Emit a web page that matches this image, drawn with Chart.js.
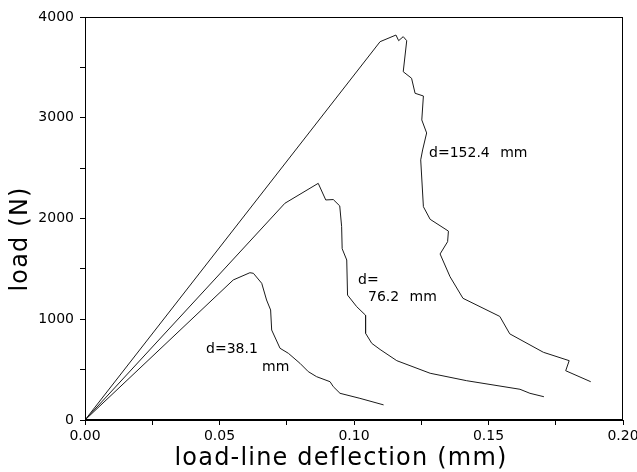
<!DOCTYPE html>
<html>
<head>
<meta charset="utf-8">
<script src="https://cdn.jsdelivr.net/npm/chart.js@4/dist/chart.umd.min.js"></script>
<style>
html,body{margin:0;padding:0;background:#fff;}
#wrap{width:637px;height:472px;position:relative;}
</style>
</head>
<body>
<div id="wrap"><canvas id="c" width="637" height="472"></canvas></div>
<script>
// ---- data (deflection in mm, load in N) ----
const seriesNames = ["d=152.4 mm", "d=76.2 mm", "d=38.1 mm"];

const d152x = [0, 0.1097, 0.1156, 0.1166, 0.1183, 0.1196, 0.1183, 0.1214, 0.1227, 0.1258, 0.1252, 0.1270, 0.1255, 0.1248, 0.1258, 0.1283, 0.1351, 0.1348, 0.1320, 0.1357, 0.1405, 0.1542, 0.1579, 0.1704, 0.1800, 0.1787, 0.1880];
const d152y = [0, 3755, 3821, 3765, 3805, 3765, 3457, 3392, 3243, 3216, 2978, 2849, 2680, 2582, 2117, 1992, 1875, 1770, 1648, 1422, 1208, 1028, 855, 672, 589, 489, 380];

const d76x = [0, 0.0743, 0.0867, 0.0895, 0.0923, 0.0947, 0.0954, 0.0956, 0.0973, 0.0976, 0.1010, 0.1043, 0.1043, 0.1066, 0.1097, 0.1159, 0.1283, 0.1419, 0.1617, 0.1654, 0.1706];
const d76y = [0, 2151, 2349, 2184, 2188, 2125, 1919, 1700, 1588, 1240, 1125, 1040, 861, 761, 700, 589, 464, 390, 305, 265, 231];

const d38x = [0, 0.0551, 0.0613, 0.0626, 0.0657, 0.0675, 0.0690, 0.0694, 0.0725, 0.0756, 0.0799, 0.0830, 0.0861, 0.0911, 0.0923, 0.0948, 0.1022, 0.1110];
const d38y = [0, 1390, 1462, 1456, 1357, 1191, 1092, 893, 712, 662, 563, 480, 430, 380, 331, 265, 215, 150];

const xTickLabels = ["0.00", "0.05", "0.10", "0.15", "0.20"];
const yTickLabels = ["0", "1000", "2000", "3000", "4000"];

const xTitle = "load-line deflection (mm)";
const yTitle = "load (N)";

// curve labels: text, x (mm), y (N) anchor (left, middle)
const noteText = ["d=152.4 mm", "d=", "76.2 mm", "d=38.1", "mm"];
const noteX = [0.1279, 0.1015, 0.1052, 0.0450, 0.0658];
const noteY = [2650, 1390, 1221, 705, 526];

function pts(xs, ys){ return xs.map((x,i)=>({x:x, y:ys[i]})); }

const FONT = "'DejaVu Sans', sans-serif";

const decor = {
  id: 'decor',
  afterDraw(chart){
    const ctx = chart.ctx, a = chart.chartArea;
    const xs = chart.scales.x, ys = chart.scales.y;
    ctx.save();
    // frame
    ctx.strokeStyle = '#000';
    ctx.lineWidth = 1;
    ctx.strokeRect(Math.round(a.left)+0.5, Math.round(a.top)+0.5, Math.round(a.right-a.left)-1, Math.round(a.bottom-a.top)-1);
    // curve notes
    ctx.fillStyle = '#000';
    ctx.font = "14px " + FONT;
    ctx.textBaseline = 'middle';
    ctx.textAlign = 'left';
    try { ctx.wordSpacing = '6px'; } catch(e){}
    noteText.forEach((t,i)=>{
      ctx.fillText(t, xs.getPixelForValue(noteX[i]), ys.getPixelForValue(noteY[i]));
    });
    try { ctx.wordSpacing = '0px'; } catch(e){}
    // axis titles
    ctx.font = "24px " + FONT;
    try { ctx.letterSpacing = '1.2px'; } catch(e){}
    ctx.textAlign = 'center';
    ctx.textBaseline = 'middle';
    ctx.fillText(xTitle, 341, 459);
    ctx.translate(21, 239);
    ctx.rotate(-Math.PI/2);
    ctx.fillText(yTitle, 0, 0);
    ctx.restore();
  }
};

function isMult(v, step){ const r = v/step; return Math.abs(r - Math.round(r)) < 1e-6; }

new Chart(document.getElementById('c'), {
  type: 'scatter',
  data: {
    datasets: [
      {label: seriesNames[0], data: pts(d152x, d152y)},
      {label: seriesNames[1], data: pts(d76x, d76y)},
      {label: seriesNames[2], data: pts(d38x, d38y)}
    ].map(d => Object.assign(d, {showLine:true, borderColor:'#1a1a1a', borderWidth:1, pointRadius:0, pointHoverRadius:0, fill:false, tension:0}))
  },
  options: {
    responsive: false,
    animation: false,
    events: [],
    layout: {padding: {left:0, right:14, top:17, bottom:0}},
    plugins: {legend:{display:false}, tooltip:{enabled:false}},
    scales: {
      x: {
        type: 'linear', min: 0, max: 0.2,
        afterFit(s){ s.height = 52; s.paddingLeft = 0; s.paddingRight = 0; },
        border: {color:'#000', width:1},
        grid: {drawOnChartArea:false, drawTicks:true, tickLength:5, color:'#000', lineWidth:1},
        ticks: {
          stepSize: 0.025, autoSkip:false, maxRotation:0, padding:3,
          color:'#000', font:{family:FONT, size:14},
          callback(v){ if(!isMult(v,0.05)) return ''; return xTickLabels[Math.round(v/0.05)]; }
        }
      },
      y: {
        type: 'linear', min: 0, max: 4000,
        afterFit(s){ s.width = 85; s.paddingTop = 0; s.paddingBottom = 0; },
        border: {color:'#000', width:1},
        grid: {drawOnChartArea:false, drawTicks:true, tickLength:5, color:'#000', lineWidth:1},
        ticks: {
          stepSize: 500, autoSkip:false, padding:6,
          color:'#000', font:{family:FONT, size:14},
          callback(v){ if(!isMult(v,1000)) return ''; return yTickLabels[Math.round(v/1000)]; }
        }
      }
    }
  },
  plugins: [decor]
});
</script>
</body>
</html>
